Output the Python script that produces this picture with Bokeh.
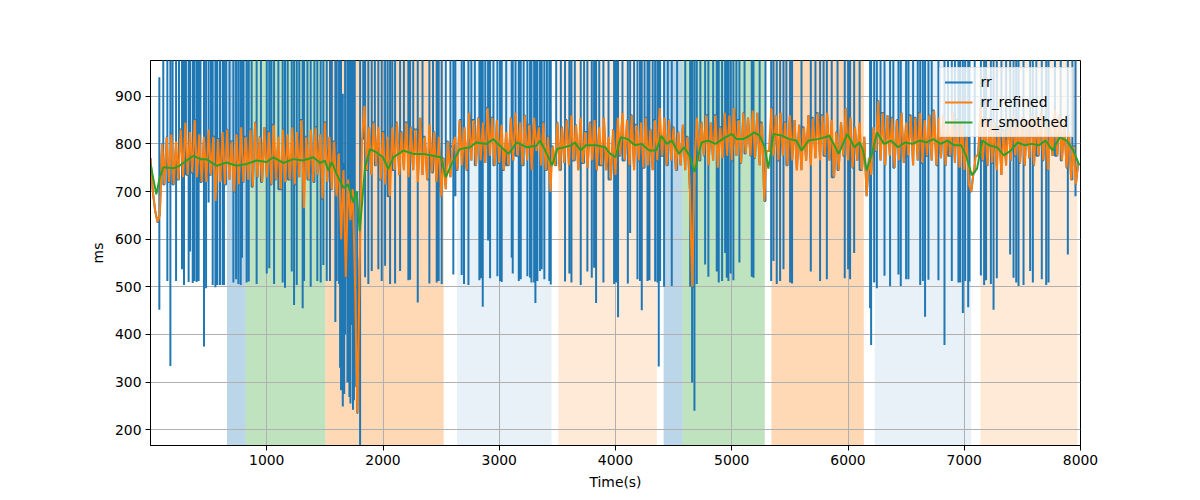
from bokeh.plotting import figure
from bokeh.models import BoxAnnotation, FixedTicker, Range1d
from bokeh.embed import file_html
from bokeh.resources import INLINE

# ---------------- data ----------------
# rr_refined sampled every 20 s from t = 0
refined_t0 = 0
refined_dt = 20
refined_v = [
    770, 700, 660, 636, 650, 800, 715, 815, 720, 820,
    715, 805, 725, 830, 730, 845, 735, 825, 740, 850,
    730, 820, 720, 815, 720, 830, 735, 815, 680, 810,
    720, 825, 715, 830, 725, 805, 700, 820, 715, 835,
    720, 815, 725, 830, 710, 845, 730, 815, 720, 835,
    730, 825, 715, 840, 725, 815, 705, 830, 720, 820,
    725, 835, 715, 825, 730, 850, 665, 815, 725, 830,
    720, 835, 735, 820, 685, 845, 720, 815, 705, 805,
    690, 780, 600, 745, 520, 725, 640, 705, 500, 235,
    560, 810, 880, 745, 835, 735, 845, 755, 835, 725,
    825, 715, 815, 690, 835, 745, 845, 735, 825, 745,
    845, 730, 835, 745, 830, 720, 855, 735, 815, 725,
    840, 740, 825, 720, 815, 690, 770, 705, 805, 730,
    795, 815, 745, 850, 755, 835, 745, 865, 765, 850,
    755, 855, 765, 845, 760, 875, 775, 855, 755, 850,
    760, 840, 745, 825, 755, 855, 765, 865, 775, 845,
    755, 860, 765, 840, 745, 855, 785, 835, 755, 845,
    745, 815, 700, 795, 755, 845, 745, 835, 760, 850,
    755, 860, 765, 840, 745, 855, 760, 825, 750, 845,
    765, 850, 745, 835, 755, 855, 745, 815, 725, 830,
    735, 855, 775, 865, 765, 850, 755, 860, 745, 840,
    765, 845, 750, 855, 755, 830, 745, 850, 765, 875,
    775, 855, 755, 850, 765, 835, 745, 825, 755, 840,
    745, 815, 705, 500, 755, 855, 765, 845, 775, 860,
    755, 845, 765, 860, 750, 835, 770, 865, 775, 860,
    765, 875, 775, 850, 760, 865, 780, 855, 775, 870,
    770, 865, 755, 845, 680, 785, 785, 875, 775, 860,
    765, 865, 775, 845, 755, 860, 765, 850, 745, 840,
    745, 835, 765, 860, 755, 855, 770, 865, 765, 860,
    775, 865, 765, 850, 730, 825, 745, 845, 775, 875,
    765, 855, 750, 835, 765, 845, 745, 815, 690, 770,
    735, 835, 785, 890, 765, 865, 755, 860, 775, 855,
    750, 850, 765, 865, 760, 845, 775, 860, 755, 855,
    765, 865, 760, 850, 775, 860, 765, 870, 755, 855,
    770, 860, 755, 845, 775, 865, 760, 850, 750, 845,
    745, 815, 715, 700, 740, 775, 775, 875, 765, 850,
    755, 855, 760, 845, 745, 835, 735, 830, 755, 850,
    765, 860, 775, 845, 760, 855, 755, 850, 770, 860,
    755, 855, 775, 865, 765, 845, 745, 835, 775, 870,
    775, 860, 765, 845, 750, 825, 725, 795, 715, 760,
]
refined_t = [refined_t0 + i * refined_dt for i in range(len(refined_v))]

# rr_smoothed
smooth_t = [0, 50, 80, 110, 200, 250, 310, 370, 430, 480, 570, 655, 740, 830, 910,
            1000, 1056, 1140, 1230, 1310, 1400, 1460, 1500, 1530, 1560, 1600, 1660,
            1700, 1745, 1772, 1800, 1845, 1890, 1945, 2000, 2045, 2090, 2175, 2260,
            2345, 2430, 2500, 2540, 2590, 2660, 2750, 2800, 2890, 2950, 3005, 3080,
            3150, 3235, 3320, 3350, 3396, 3456, 3500, 3560, 3620, 3650, 3700, 3745,
            3835, 3910, 3955, 4000, 4045, 4105, 4165, 4225, 4290, 4350, 4395, 4440,
            4485, 4545, 4590, 4635, 4680, 4740, 4800, 4860, 4920, 5000, 5040, 5100,
            5150, 5195, 5240, 5285, 5315, 5360, 5435, 5495, 5555, 5600, 5660, 5740,
            5800, 5840, 5920, 5995, 6055, 6100, 6130, 6160, 6205, 6250, 6310, 6370,
            6430, 6490, 6555, 6615, 6675, 6735, 6795, 6855, 6915, 6975, 7020, 7065,
            7110, 7155, 7215, 7280, 7340, 7400, 7460, 7520, 7580, 7640, 7700, 7760,
            7820, 7880, 7940, 7990]
smooth_v = [758, 694, 730, 751, 749, 754, 765, 775, 768, 768, 754, 761, 754, 758, 765,
            762, 772, 760, 768, 765, 772, 760, 765, 744, 762, 737, 708,
            715, 677, 701, 617, 751, 789, 782, 772, 747, 772, 786, 779,
            779, 775, 772, 730, 758, 789, 793, 803, 800, 810, 796, 779,
            803, 793, 796, 807, 786, 755, 790, 793, 797, 803, 786, 797,
            797, 793, 779, 772, 814, 810, 797, 800, 786, 786, 817, 800,
            807, 779, 793, 776, 741, 803, 807, 800, 810, 821, 810, 810,
            817, 824, 817, 793, 748, 821, 817, 810, 807, 786, 807, 810,
            814, 817, 779, 821, 793, 803, 786, 744, 779, 824, 800, 807,
            793, 803, 800, 807, 803, 810, 800, 807, 797, 797, 772, 734,
            748, 807, 797, 793, 776, 786, 803, 797, 800, 797, 807, 786,
            814, 807, 786, 755]

# raw rr artifacts: low value followed by a peak beyond the plot top
artifact_peak = 1350
spike_t = [76, 145, 171, 220, 271, 288, 328, 340, 363, 377, 397, 414, 460, 478, 500, 535, 558, 575, 598, 621,
           632, 713, 736, 756, 776, 787, 827, 845, 913, 1000, 1022, 1063, 1137, 1157, 1215, 1235, 1258, 1309, 1321, 1378,
           1435, 1464, 1487, 1516, 1544, 1590, 1602, 1622, 1631, 1639, 1654, 1666, 1674, 1694,
           1711, 1720, 1728, 1742, 1750, 1757, 1778, 1803, 1846, 1874, 1903,
           1960, 1989, 2018, 2061, 2104, 2147, 2218, 2233, 2299, 2399, 2462, 2479, 2505, 2605, 2623,
           2677, 2697, 2735, 2829, 2841, 2858, 2904, 2921, 2984, 3007, 3021, 3107, 3116, 3168, 3185, 3242, 3265, 3277, 3300, 3311,
           3328, 3351, 3365, 3388, 3431, 3443, 3566, 3603, 3621, 3701, 3758, 3796, 3816, 3833, 3896, 3988, 4005, 4022, 4106, 4126,
           4189, 4211, 4226, 4275, 4292, 4341, 4361, 4372, 4384, 4418, 4484, 4642, 4659, 4679, 4699, 4771, 4799, 4871, 4888, 4917,
           4943, 4957, 4971, 4991, 5014, 5066, 5172, 5187,
           5339, 5359, 5387, 5416, 5445, 5502, 5519, 5680, 5760, 5818, 5972, 6001, 6018, 6053, 6190, 6199, 6225, 6248, 6314, 6362,
           6434, 6454, 6500, 6520, 6621, 6644, 6663, 6692, 6778, 6830, 6893, 6950, 6965, 6988, 7008, 7034, 7045, 7143, 7171, 7188,
           7229, 7252, 7280, 7395, 7424, 7447, 7467, 7510, 7567, 7590, 7667, 7705, 7725, 7891, 7957]
spike_lo = [452, 512, 334, 512, 537, 504, 510, 574, 508, 512, 510, 512, 375, 497, 677, 504, 499, 504, 504, 504,
            504, 509, 516, 506, 504, 561, 509, 511, 506, 528, 539, 506, 509, 498, 532, 462, 504, 455, 512, 500,
            512, 509, 546, 512, 512, 426, 512, 506, 330, 283, 249, 275, 400, 300,
            269, 255, 420, 242, 262, 290, 272, 100, 520, 506, 533,
            537, 512, 544, 506, 507, 533, 514, 515, 467, 507, 509, 512, 506, 526, 690,
            525, 506, 504, 514, 518, 458, 597, 518, 522, 512, 510, 561, 528, 512, 516, 522, 519, 509, 509, 466,
            512, 533, 537, 516, 512, 505, 511, 528, 509, 504, 532, 519, 540, 466, 509, 506, 509, 436, 507, 613,
            516, 512, 451, 512, 514, 511, 509, 333, 512, 500, 502, 509, 299, 240, 506, 547, 521, 532, 509, 512,
            571, 519, 512, 528, 514, 551, 521, 519,
            512, 554, 506, 512, 537, 509, 507, 532, 512, 516, 518, 537, 516, 571, 455, 378, 509, 497, 523, 501,
            526, 502, 516, 516, 504, 512, 437, 515, 514, 378, 512, 509, 509, 445, 512, 457, 511, 524, 504, 514,
            506, 452, 518, 568, 519, 509, 502, 504, 533, 509, 516, 504, 509, 568, 690]
spike_peak_override = {76: 940, 1654: 905, 1666: 760, 1720: 740, 1750: 720, 1778: 700}

# raw rr artifacts that only go up
up_t = [110, 190, 245, 305, 430, 520, 650, 680, 800, 870, 950, 1040, 1100, 1180, 1280, 1350, 1410, 1560,
        1830, 1930, 2040, 2080, 2180, 2260, 2340, 2430, 2540, 2580, 2760, 2790, 2880, 2950, 3060, 3140,
        3210, 3410, 3490, 3530, 3650, 3730, 3860, 3940, 4060, 4160, 4250, 4320, 4450, 4530, 4600, 4730,
        4840, 5040, 5110, 5240, 5290, 5470, 5600, 5720, 5790, 5860, 5910, 6100, 6280, 6390, 6560, 6600,
        6720, 6860, 6920, 7090, 7320, 7360, 7620, 7780, 7830, 7930]
up_hi = [1300, 1300, 1300, 1300, 1300, 1300, 1300, 1300, 1300, 1300, 1300, 1300, 1300, 1300, 1300, 1300, 1300, 1300,
         1300, 1300, 1300, 1300, 1300, 1300, 1300, 1300, 1300, 1300, 1300, 1300, 1300, 1300, 1300, 1300,
         1300, 1300, 1300, 1300, 1300, 1300, 1300, 1300, 1300, 1300, 1300, 1300, 1300, 1300, 1300, 1300,
         1300, 1300, 1300, 1300, 1300, 1300, 1300, 1300, 1300, 1300, 1300, 1300, 1300, 1300, 1300, 1300,
         1300, 1300, 1300, 1300, 1300, 1300, 1300, 1300, 1300, 1300]

# shaded segments
seg_start = [658, 819, 1504, 2637, 3508, 4414, 4577, 5341, 6230, 7139]
seg_end = [819, 1504, 2522, 3450, 4356, 4577, 5284, 6136, 7060, 7973]
seg_kind = ["a", "b", "c", "d", "e", "a", "b", "c", "d", "e"]

x_ticks = [1000, 2000, 3000, 4000, 5000, 6000, 7000, 8000]
y_ticks = [200, 300, 400, 500, 600, 700, 800, 900]

# ---------------- build raw rr series ----------------
events = [(t, lo, spike_peak_override.get(t, artifact_peak)) for t, lo in zip(spike_t, spike_lo)]
events += [(t, None, h) for t, h in zip(up_t, up_hi)]
events.sort(key=lambda e: e[0])
rr_t, rr_v = [], []
j = 0
prev_v = refined_v[0]
for t, v in zip(refined_t, refined_v):
    while j < len(events) and events[j][0] < t:
        et, lo, hi = events[j]
        rr_t.append(et)
        rr_v.append(prev_v)
        if lo is not None:
            rr_t.append(et)
            rr_v.append(lo)
        rr_t.append(et)
        rr_v.append(hi)
        rr_t.append(et)
        rr_v.append(v)
        j += 1
    rr_t.append(t)
    rr_v.append(v)
    prev_v = v

# ---------------- styling ----------------
C0, C1, C2 = "#1f77b4", "#ff7f0e", "#2ca02c"
kind_style = {"a": (C0, 0.3), "b": (C2, 0.3), "c": (C1, 0.3), "d": (C0, 0.1), "e": (C1, 0.16)}
FONT = "DejaVu Sans"
FS = "13.9px"

p = figure(frame_width=930, frame_height=385, output_backend="svg", toolbar_location=None,
           x_range=Range1d(0, 8000), y_range=Range1d(167, 975),
           min_border_left=150, min_border_right=120, min_border_top=60, min_border_bottom=55)
p.background_fill_color = "white"
p.border_fill_color = "white"
p.outline_line_color = "black"
p.outline_line_width = 1
p.outline_line_alpha = 1

for s, e, k in zip(seg_start, seg_end, seg_kind):
    c, a = kind_style[k]
    p.add_layout(BoxAnnotation(left=s, right=e, fill_color=c, fill_alpha=a,
                               line_alpha=0, level="image"))

p.line(rr_t, rr_v, line_color=C0, line_width=2, legend_label="rr")
p.line(refined_t, refined_v, line_color=C1, line_width=2, legend_label="rr_refined")
p.line(smooth_t, smooth_v, line_color=C2, line_width=2, legend_label="rr_smoothed")

p.xaxis.ticker = FixedTicker(ticks=x_ticks)
p.yaxis.ticker = FixedTicker(ticks=y_ticks)
p.xaxis.axis_label = "Time(s)"
p.yaxis.axis_label = "ms"
for ax in (p.xaxis, p.yaxis):
    ax.axis_label_text_font = FONT
    ax.axis_label_text_font_size = FS
    ax.axis_label_text_font_style = "normal"
    ax.axis_label_text_color = "black"
    ax.major_label_text_font = FONT
    ax.major_label_text_font_size = FS
    ax.major_label_text_color = "black"
    ax.axis_line_color = "black"
    ax.major_tick_line_color = "black"
    ax.major_tick_in = 0
    ax.major_tick_out = 5
    ax.minor_tick_line_color = None
    ax.major_label_standoff = 4
    ax.axis_label_standoff = 6

p.grid.grid_line_color = "#b0b0b0"
p.grid.grid_line_width = 1
p.grid.grid_line_alpha = 1

lg = p.legend[0]
lg.location = "top_right"
lg.margin = 7
lg.padding = 4
lg.spacing = 0
lg.label_height = 20
lg.glyph_height = 20
lg.glyph_width = 28
lg.label_standoff = 8
lg.label_text_font = FONT
lg.label_text_font_size = FS
lg.label_text_color = "black"
lg.background_fill_alpha = 0.8
lg.border_line_color = "#cccccc"
lg.border_line_width = 1

open("out.html", "w").write(file_html(p, INLINE))
